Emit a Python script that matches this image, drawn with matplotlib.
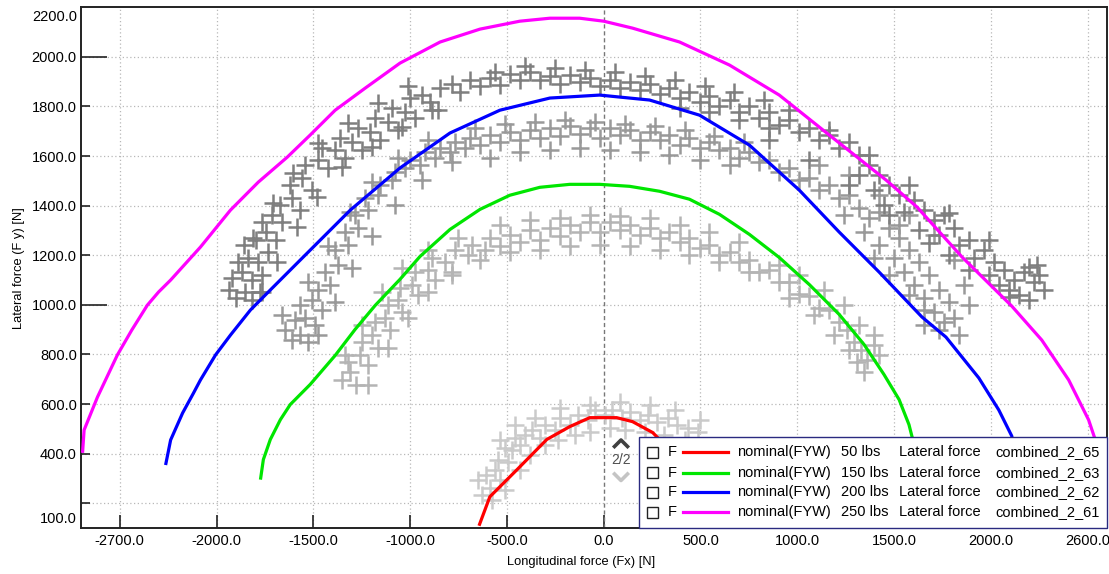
import matplotlib
matplotlib.use('Agg')
import numpy as np
import matplotlib.pyplot as plt
from matplotlib.patches import Rectangle
from matplotlib.lines import Line2D
import matplotlib.transforms as mtrans

plt.rcParams['font.family'] = ['Liberation Sans', 'DejaVu Sans']

# ---------------- data ----------------
series_prefix = 'nominal(FYW)'
series_sizes = ['50 lbs', '150 lbs', '200 lbs', '250 lbs']
series_kind = 'Lateral force'
series_names = ['combined_2_65', 'combined_2_63', 'combined_2_62', 'combined_2_61']
series_colors = ['#ff0000', '#00e600', '#0000ff', '#ff00ff']

x_tick_values = [-2500, -2000, -1500, -1000, -500, 0, 500, 1000, 1500, 2000, 2500]
x_tick_labels = ['-2700.0', '-2000.0', '-1500.0', '-1000.0', '-500.0', '0.0',
                 '500.0', '1000.0', '1500.0', '2000.0', '2600.0']
y_tick_values = [200, 400, 600, 800, 1000, 1200, 1400, 1600, 1800, 2000]
y_tick_labels = ['', '400.0', '600.0', '800.0', '1000.0', '1200.0', '1400.0',
                 '1600.0', '1800.0', '2000.0']
y_edge_labels = ['2200.0', '100.0']

# model curves (Fx, Fy) [N]
curve_50 = [(-644, 109), (-588, 226), (-448, 335), (-294, 457), (-175, 509),
            (-72, 545), (67, 545), (149, 529), (253, 485), (340, 416)]
curve_150 = [(-1773, 295), (-1758, 376), (-1722, 457), (-1670, 537), (-1619, 598),
             (-1516, 679), (-1387, 796), (-1284, 901), (-1180, 998), (-1052, 1103),
             (-949, 1195), (-794, 1304), (-639, 1385), (-485, 1442), (-330, 1474),
             (-175, 1486), (-21, 1486), (134, 1478), (289, 1458), (443, 1426),
             (598, 1365), (753, 1284), (907, 1191), (1062, 1082), (1217, 961),
             (1345, 840), (1448, 719), (1526, 618), (1577, 517), (1603, 437), (1619, 336)]
curve_200 = [(-2263, 354), (-2237, 455), (-2175, 564), (-2119, 644), (-2083, 697),
             (-2005, 798), (-1928, 878), (-1825, 979), (-1722, 1060), (-1567, 1181),
             (-1309, 1382), (-1052, 1552), (-794, 1693), (-536, 1785), (-278, 1834),
             (-21, 1846), (237, 1826), (495, 1765), (753, 1644), (1010, 1463),
             (1216, 1294), (1423, 1132), (1644, 951), (1768, 870), (1938, 705),
             (2041, 576), (2108, 471), (2144, 334)]
curve_250 = [(-2692, 403), (-2684, 495), (-2615, 628), (-2512, 798), (-2438, 898),
             (-2357, 999), (-2299, 1052), (-2237, 1100), (-2083, 1233), (-1928, 1382),
             (-1784, 1495), (-1634, 1596), (-1516, 1685), (-1387, 1785), (-1232, 1874),
             (-1052, 1975), (-845, 2060), (-639, 2112), (-433, 2144), (-278, 2156),
             (-124, 2156), (0, 2144), (149, 2116), (392, 2060), (650, 1967),
             (907, 1846), (1165, 1685), (1459, 1503), (1619, 1394), (1851, 1193),
             (2108, 995), (2263, 858), (2402, 697), (2505, 536), (2557, 415), (2578, 366)]

# measured points (Fx, Fy) [N]
meas_50 = [(-629, 233), (-588, 261), (-608, 314), (-562, 334), (-536, 293), (-546, 374),
           (-495, 366), (-474, 415), (-510, 423), (-433, 435), (-407, 475), (-459, 463),
           (-371, 495), (-330, 463), (-304, 515), (-253, 495), (-227, 544), (-175, 515),
           (-134, 556), (-82, 536), (-46, 576), (5, 556), (41, 576), (93, 544),
           (134, 568), (186, 536), (227, 556), (278, 527), (330, 544), (381, 515),
           (433, 503), (485, 487),
           (-650, 293), (-577, 213), (-510, 253), (-433, 334), (-381, 394), (-304, 435),
           (-237, 455), (-149, 475), (-72, 487), (31, 503), (108, 495), (211, 487),
           (314, 475), (418, 455), (495, 536), (366, 576), (237, 596), (82, 608),
           (-72, 596), (-227, 584), (-356, 544), (-459, 515), (-536, 455)]
meas_150 = [(-1351, 697), (-1309, 729), (-1278, 677), (-1320, 769), (-1258, 798),
            (-1217, 757), (-1248, 850), (-1196, 878), (-1165, 826), (-1180, 931),
            (-1129, 947), (-1103, 898), (-1113, 999), (-1062, 1019), (-1041, 971),
            (-1052, 1068), (-990, 1080), (-959, 1040), (-974, 1132), (-907, 1140),
            (-871, 1100), (-887, 1189), (-820, 1173), (-784, 1132), (-768, 1221),
            (-701, 1201), (-680, 1241), (-613, 1221), (-588, 1269), (-536, 1237),
            (-485, 1281), (-433, 1253), (-381, 1302), (-330, 1261), (-278, 1310),
            (-227, 1277), (-175, 1322), (-124, 1294), (-72, 1334), (-21, 1294),
            (31, 1334), (82, 1302), (134, 1322), (186, 1281), (237, 1310),
            (289, 1269), (340, 1294), (392, 1253), (443, 1269), (495, 1229),
            (546, 1241), (598, 1201), (650, 1213), (701, 1173), (753, 1181),
            (804, 1132), (856, 1140), (907, 1092), (959, 1092), (1010, 1044),
            (1062, 1036), (1113, 987), (1165, 979), (1217, 931), (1258, 898),
            (1294, 850), (1330, 818), (1361, 777), (1309, 769), (1397, 838), (1423, 798),
            (-1335, 798), (-1248, 919), (-1144, 1052), (-1041, 1148), (-907, 1221),
            (-753, 1269), (-1217, 677), (-1113, 826), (-1010, 947), (-907, 1052),
            (-784, 1120), (-639, 1181), (-536, 1322), (-381, 1342), (-227, 1350),
            (-72, 1362), (82, 1358), (237, 1350), (392, 1322), (546, 1294),
            (701, 1253), (-485, 1213), (-330, 1221), (-175, 1237), (-21, 1241),
            (134, 1237), (289, 1221), (443, 1201), (598, 1173), (753, 1132),
            (907, 1161), (1010, 1120), (1139, 1060), (1242, 999), (1320, 919),
            (1397, 878), (959, 1027), (1088, 959), (1191, 878), (1268, 818), (1345, 729)]
meas_200 = [(-1644, 898), (-1608, 858), (-1567, 878), (-1526, 850), (-1593, 939),
            (-1541, 947), (-1490, 919), (-1567, 999), (-1505, 1019), (-1454, 979),
            (-1474, 1060), (-1412, 1080), (-1438, 1132), (-1371, 1161), (-1387, 1221),
            (-1320, 1241), (-1335, 1294), (-1268, 1310), (-1284, 1362), (-1217, 1382),
            (-1232, 1431), (-1165, 1443), (-1155, 1483), (-1093, 1503), (-1077, 1535),
            (-1026, 1552), (-1000, 1584), (-949, 1564), (-923, 1616), (-871, 1592),
            (-845, 1632), (-794, 1616), (-768, 1656), (-717, 1632), (-691, 1673),
            (-639, 1644), (-588, 1685), (-536, 1656), (-485, 1697), (-433, 1665),
            (-381, 1705), (-330, 1673), (-278, 1713), (-227, 1681), (-175, 1721),
            (-124, 1689), (-72, 1713), (-21, 1673), (31, 1713), (82, 1685),
            (134, 1705), (186, 1665), (237, 1697), (289, 1665), (340, 1685),
            (392, 1644), (443, 1673), (495, 1632), (546, 1656), (598, 1624),
            (650, 1632), (701, 1592), (753, 1616), (804, 1576), (856, 1584),
            (907, 1536), (959, 1552), (1010, 1503), (1062, 1511), (1113, 1463),
            (1165, 1483), (1217, 1431), (1268, 1443), (1320, 1390), (1242, 1362),
            (1371, 1350), (1423, 1374), (1345, 1294), (1474, 1310), (1526, 1269),
            (1423, 1241), (1577, 1221), (1500, 1189), (1629, 1173), (1552, 1132),
            (1681, 1120), (1603, 1080), (1732, 1060), (1655, 1027), (1784, 1011),
            (1706, 971), (1758, 931), (1655, 919), (1809, 947),
            (-1660, 959), (-1526, 1092), (-1423, 1237), (-1309, 1374), (-1196, 1495),
            (-1062, 1592), (-907, 1665), (-1474, 878), (-1387, 1011), (-1299, 1148),
            (-1196, 1277), (-1077, 1402), (-938, 1503), (-784, 1576), (-665, 1713),
            (-510, 1729), (-356, 1737), (-201, 1745), (-46, 1737), (108, 1729),
            (263, 1721), (418, 1705), (572, 1681), (727, 1656), (-588, 1592),
            (-433, 1616), (-278, 1624), (-124, 1632), (31, 1624), (186, 1616),
            (340, 1604), (495, 1584), (650, 1564), (1113, 1564), (1268, 1523),
            (1423, 1443), (1577, 1362), (1706, 1281), (1809, 1181), (1861, 1080),
            (1887, 999), (1835, 878), (1526, 1322), (1397, 1189), (1474, 1120),
            (1577, 1040), (1655, 979), (1732, 898)]
meas_250 = [(-1938, 1060), (-1897, 1027), (-1851, 1052), (-1815, 1019), (-1773, 1052),
            (-1918, 1108), (-1866, 1132), (-1815, 1100), (-1763, 1120), (-1887, 1173),
            (-1835, 1189), (-1784, 1173), (-1732, 1213), (-1856, 1241), (-1794, 1261),
            (-1742, 1294), (-1691, 1261), (-1763, 1334), (-1711, 1362), (-1660, 1334),
            (-1670, 1402), (-1608, 1431), (-1567, 1382), (-1619, 1483), (-1557, 1511),
            (-1505, 1463), (-1541, 1564), (-1474, 1584), (-1423, 1552), (-1454, 1632),
            (-1387, 1624), (-1335, 1592), (-1361, 1673), (-1299, 1656), (-1248, 1624),
            (-1268, 1713), (-1206, 1697), (-1155, 1665), (-1180, 1753), (-1113, 1737),
            (-1062, 1705), (-1093, 1794), (-1026, 1777), (-974, 1753), (-1000, 1834),
            (-938, 1846), (-897, 1818), (-856, 1785), (-845, 1874), (-784, 1890),
            (-742, 1858), (-691, 1906), (-639, 1882), (-588, 1915), (-536, 1886),
            (-485, 1931), (-433, 1906), (-381, 1939), (-330, 1906), (-278, 1923),
            (-227, 1890), (-175, 1927), (-124, 1898), (-72, 1915), (-21, 1882),
            (31, 1906), (82, 1874), (134, 1898), (186, 1866), (237, 1890),
            (289, 1850), (340, 1874), (392, 1834), (443, 1858), (495, 1818),
            (546, 1842), (598, 1802), (650, 1826), (701, 1777), (753, 1802),
            (804, 1753), (856, 1777), (907, 1725), (959, 1745), (1010, 1697),
            (1062, 1713), (1113, 1665), (1165, 1685), (1217, 1632), (1268, 1656),
            (1320, 1604), (1371, 1564), (1423, 1523), (1320, 1523), (1397, 1463),
            (1474, 1483), (1526, 1443), (1449, 1402), (1552, 1374), (1603, 1423),
            (1655, 1382), (1706, 1342), (1758, 1362), (1629, 1302), (1732, 1281),
            (1809, 1310), (1835, 1241), (1887, 1261), (1784, 1201), (1913, 1189),
            (1964, 1221), (2016, 1173), (1990, 1120), (2067, 1140), (2119, 1100),
            (2170, 1132), (2222, 1092), (2273, 1060), (2144, 1040), (2196, 1019),
            (2248, 1120), (2093, 1060), (2041, 1080), (2237, 1161),
            (-1763, 1052), (-1686, 1173), (-1583, 1314), (-1479, 1435), (-1351, 1556),
            (-1196, 1636), (-1041, 1717), (-887, 1785), (-1809, 1269), (-1706, 1411),
            (-1603, 1531), (-1474, 1652), (-1320, 1733), (-1165, 1814), (-1010, 1882),
            (-562, 1939), (-407, 1963), (-253, 1955), (-98, 1947), (57, 1939),
            (211, 1923), (366, 1906), (521, 1882), (675, 1858), (830, 1826),
            (392, 1794), (546, 1777), (701, 1745), (856, 1713),
            (959, 1785), (1165, 1705), (1371, 1604), (1577, 1483), (1784, 1370),
            (1990, 1261), (2196, 1152), (856, 1665), (1062, 1584), (1268, 1483),
            (1474, 1362), (1681, 1249), (1887, 1140), (2093, 1031)]
meas_colors = ['#cacaca', '#b4b4b4', '#999999', '#7f7f7f']

# ---------------- figure ----------------
W, H = 1109, 574
fig = plt.figure(figsize=(W / 100, H / 100), dpi=100)
ax_l, ax_r, ax_t, ax_b = 81, 1107, 7.3, 528
ax = fig.add_axes([ax_l / W, 1 - ax_b / H, (ax_r - ax_l) / W, (ax_b - ax_t) / H])
ax.set_xlim(-2700, 2600)
ax.set_ylim(100, 2200)

meas = [meas_50, meas_150, meas_200, meas_250]
for pts, col in zip(meas, meas_colors):
    a = np.array(pts, dtype=float)
    ax.plot(a[:, 0], a[:, 1], linestyle='none', marker='+', ms=12.5, mew=1.8,
            color=col, zorder=2)

curves = [curve_50, curve_150, curve_200, curve_250]
for pts, col in zip(curves, series_colors):
    a = np.array(pts, dtype=float)
    ax.plot(a[:, 0], a[:, 1], color=col, lw=2.3, zorder=3, solid_capstyle='butt',
            solid_joinstyle='round')

ax.set_xticks(x_tick_values)
ax.set_xticklabels(x_tick_labels)
ax.set_yticks(y_tick_values)
ax.set_yticklabels(y_tick_labels)
ax.tick_params(axis='both', direction='in', labelsize=10.5, color='#222222', width=1.2)
ax.tick_params(axis='x', length=9.5, pad=4.5)
ax.tick_params(axis='y', length=6.5, pad=3)
for t, v in zip(ax.yaxis.get_major_ticks(), y_tick_values):
    if v in (1000, 2000):
        t.tick1line.set_markersize(19)

ax.set_axisbelow(True)
ax.grid(True, color='#b8b8b8', linestyle=(0, (1, 2)), lw=0.9)
for gl, v in zip(ax.xaxis.get_gridlines(), x_tick_values):
    if v == 0:
        gl.set_visible(False)
ax.axvline(0, color='#777777', linestyle=(0, (3, 2)), lw=1.0, zorder=1)

for s in ax.spines.values():
    s.set_color('#222222')
    s.set_linewidth(1.4)

blend = mtrans.blended_transform_factory(ax.transAxes, ax.transData)
ax.text(-0.004, 2160, y_edge_labels[0], transform=blend, ha='right', va='center', fontsize=10.5)
ax.text(-0.004, 138, y_edge_labels[1], transform=blend, ha='right', va='center', fontsize=10.5)

# ---------------- overlay (pixel coordinates) ----------------
ov = fig.add_axes([0, 0, 1, 1], zorder=5)
ov.set_xlim(0, W)
ov.set_ylim(H, 0)
ov.axis('off')
ov.patch.set_alpha(0)

ov.text(19, 268, 'Lateral force (F y) [N]', rotation=90, ha='center', va='center', fontsize=9.3)
ov.text(581, 562, 'Longitudinal force (Fx) [N]', ha='center', va='center', fontsize=9.3)

# legend
ov.add_patch(Rectangle((639.3, 436.7), 1106.7 - 639.3, 527.7 - 436.7, facecolor='white',
                       edgecolor='#2a2a80', lw=1.0))
row_y = [452.3, 472.7, 492.3, 512.3]
for yy, size, name, col in zip(row_y, series_sizes, series_names, series_colors):
    ov.add_patch(Rectangle((647, yy - 5.3), 10.6, 10.6, facecolor='white',
                           edgecolor='#222222', lw=1.0))
    ov.text(668, yy, 'F', ha='left', va='center', fontsize=10.5)
    ov.add_line(Line2D([683, 728], [yy, yy], color=col, lw=2.3))
    ov.text(736.7, yy, series_prefix, ha='left', va='center', fontsize=10.5)
    ov.text(840.7, yy, size, ha='left', va='center', fontsize=10.5)
    ov.text(899, yy, series_kind, ha='left', va='center', fontsize=10.5)
    ov.text(995, yy, name, ha='left', va='center', fontsize=10.5)

# paging widget
ov.add_line(Line2D([614.5, 621, 627.5], [446.5, 440, 446.5], color='#404040', lw=2.6))
ov.text(621, 460, '2/2', ha='center', va='center', fontsize=10, color='#505050')
ov.add_line(Line2D([614.5, 621, 627.5], [474, 480.5, 474], color='#c4c4c4', lw=2.6))

fig.savefig('out.png', dpi=100)
